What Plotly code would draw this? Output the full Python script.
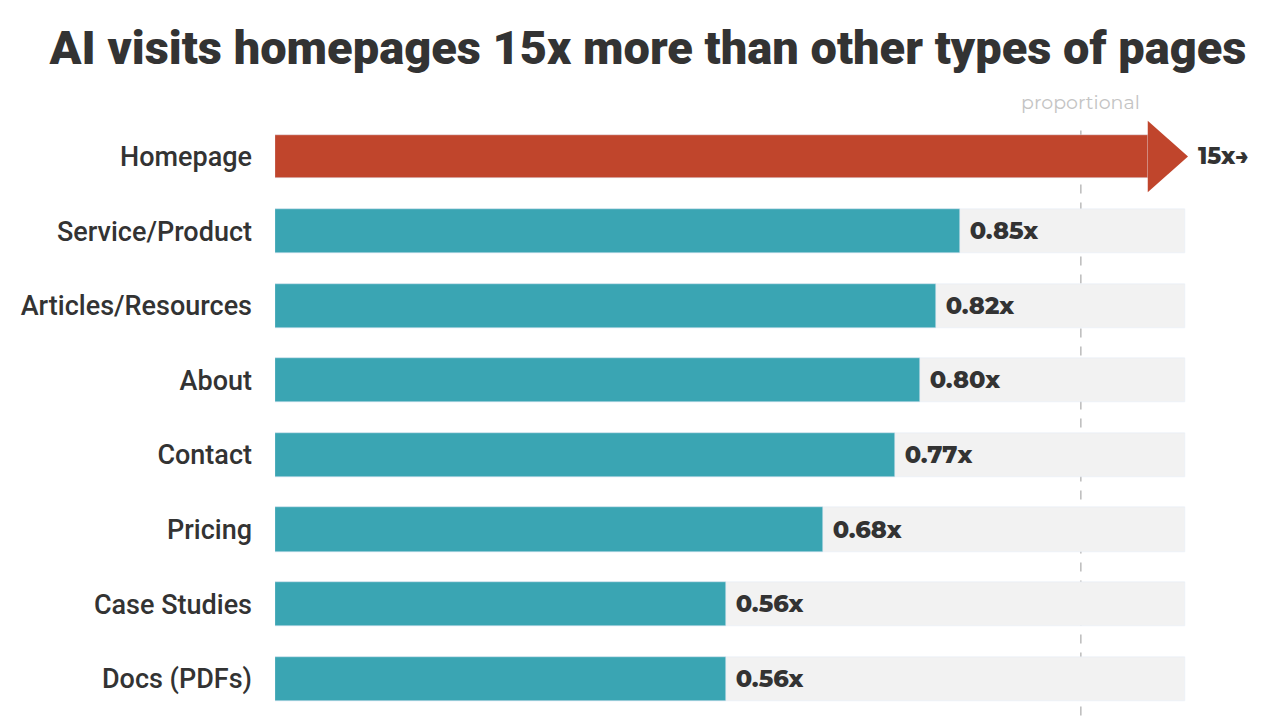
import plotly.graph_objects as go

categories = ["Homepage", "Service/Product", "Articles/Resources", "About",
              "Contact", "Pricing", "Case Studies", "Docs (PDFs)"]
values = [15, 0.85, 0.82, 0.80, 0.77, 0.68, 0.56, 0.56]
labels = ["15x\u2192", "0.85x", "0.82x", "0.80x", "0.77x", "0.68x", "0.56x", "0.56x"]

track_end = 1.129   # grey track length
shaft_end = 1.083   # where the homepage arrow head begins
tip = 1.133

pos = list(range(len(categories)))
teal = "#3aa5b3"
red = "#c0452c"
val_font = dict(size=24, color="#333", family="Montserrat, Roboto", weight=800)

fig = go.Figure()
fig.add_trace(go.Bar(y=pos[1:], x=[track_end] * (len(pos) - 1), orientation="h",
                     marker_color="#f2f2f2", width=0.59, hoverinfo="skip"))
fig.add_trace(go.Bar(y=pos[1:], x=values[1:], orientation="h",
                     marker=dict(color=teal, cornerradius=4),
                     width=0.59, text=["&nbsp;" + t for t in labels[1:]],
                     textposition="outside", textfont=val_font, cliponaxis=False))
fig.add_trace(go.Bar(y=[0], x=[shaft_end], orientation="h", marker_color=red,
                     width=0.58, hoverinfo="skip"))

fig.add_shape(type="path", xref="x", yref="y", fillcolor=red, line_width=0,
              path=f"M {shaft_end} -0.48 L {tip} 0 L {shaft_end} 0.48 Z")
fig.add_shape(type="line", xref="x", yref="y", x0=1, x1=1, y0=-0.35, y1=7.5,
              line=dict(color="#bbbbbb", width=1.5, dash="dash"), layer="below")
fig.add_annotation(x=tip + 0.01, y=0, text=labels[0], showarrow=False,
                   xanchor="left", font=dict(val_font, size=23))
fig.add_annotation(x=1, xref="x", y=1.0, yref="paper", yanchor="bottom", yshift=-8,
                   text="proportional", showarrow=False,
                   font=dict(size=19, color="#c4c4c4", family="Montserrat, Lato"))

fig.update_layout(
    width=1280, height=720, barmode="overlay", showlegend=False,
    plot_bgcolor="white", paper_bgcolor="white", bargap=0,
    margin=dict(l=267, r=46, t=100, b=12),
    title=dict(text="AI visits homepages 15x more than other types of pages",
               x=0.5, xanchor="center", y=0.945, yanchor="middle",
               font=dict(size=47, color="#333", family="Roboto", weight=900)),
    xaxis=dict(range=[0, 1.2], visible=False),
    yaxis=dict(range=[7.5, -0.65], tickvals=pos, ticktext=categories,
               showgrid=False, zeroline=False, ticks="", ticklabelstandoff=22,
               automargin=False,
               tickfont=dict(size=27, color="#333", family="Roboto", weight=500)),
)
fig.write_html("out.html")
